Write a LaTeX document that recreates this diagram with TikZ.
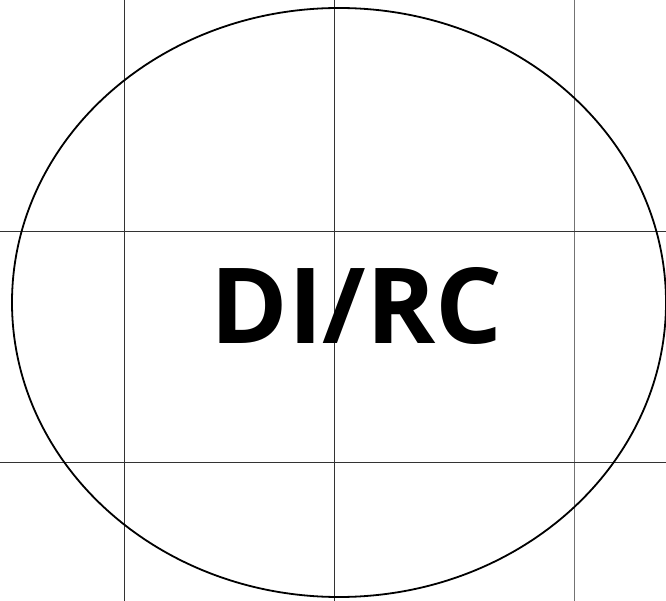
\documentclass[tikz,border=0pt]{standalone}
\usepackage{fontspec}
\usetikzlibrary{shapes.geometric}
\newfontfamily\labelfont{Open Sans}
\begin{document}
\begin{tikzpicture}[x=1pt,y=-1pt,
  gridline/.style={line width=0.9pt,black!80},
  outline/.style={line width=1.8pt,black},
  title/.style={font=\labelfont\bfseries\fontsize{105}{105}\selectfont,inner sep=0pt}]
\useasboundingbox (0,0) rectangle (666,601);
\fill[white] (0,0) rectangle (666,601);
\coordinate (v1t) at (124,0); \coordinate (v1b) at (124,601);
\coordinate (v2t) at (334,0); \coordinate (v2b) at (334,601);
\coordinate (v3t) at (574,0); \coordinate (v3b) at (574,601);
\coordinate (h1l) at (0,231); \coordinate (h1r) at (666,231);
\coordinate (h2l) at (0,462); \coordinate (h2r) at (666,462);
\draw[gridline] (v1t) -- (v1b);
\draw[gridline] (v2t) -- (v2b);
\draw[gridline,black!55] (v3t) -- (v3b);
\draw[gridline] (h1l) -- (h1r);
\draw[gridline] (h2l) -- (h2r);
\node[draw,outline,ellipse,minimum width=654,minimum height=589,inner sep=0pt] (oval) at (339,302.5) {};
\node[title,anchor=base] (lbl) at (356.5,343) {DI/RC};
\end{tikzpicture}
\end{document}
